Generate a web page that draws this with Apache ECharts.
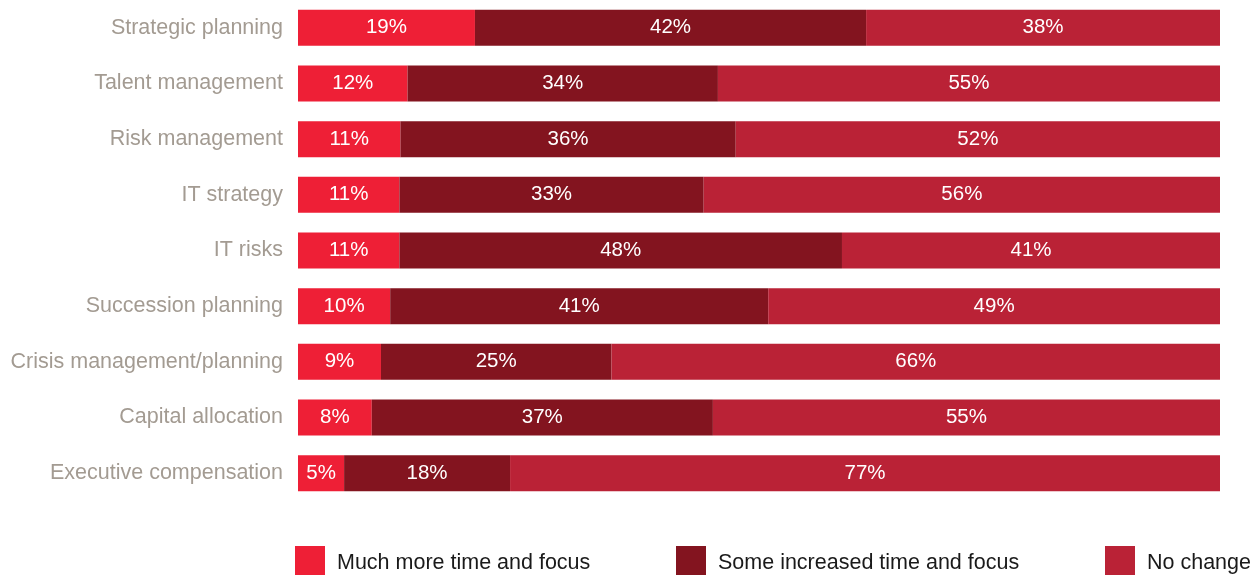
<!DOCTYPE html>
<html>
<head>
<meta charset="utf-8">
<script src="https://cdn.jsdelivr.net/npm/echarts@6/dist/echarts.min.js"></script>
<style>
  html, body { margin: 0; padding: 0; background: #fff; }
  #chart { width: 1257px; height: 576px; }
</style>
</head>
<body>
<div id="chart"></div>
<script>
var categories = ['Strategic planning', 'Talent management', 'Risk management', 'IT strategy', 'IT risks',
  'Succession planning', 'Crisis management/planning', 'Capital allocation', 'Executive compensation']
var seriesNames = ['Much more time and focus', 'Some increased time and focus', 'No change']
var muchMore = [19, 12, 11, 11, 11, 10, 9, 8, 5]
var someIncreased = [42, 34, 36, 33, 48, 41, 25, 37, 18]
var noChange = [38, 55, 52, 56, 41, 49, 66, 55, 77]
var colors = ['#EE1F36', '#83141F', '#BA2236']
var font = 'Liberation Sans, Arial, sans-serif'

var chart = echarts.init(document.getElementById('chart'))
var raw = [muchMore, someIncreased, noChange]
// each bar fills the full width, so scale by the row total
var totals = categories.map(function (c, i) {
  return muchMore[i] + someIncreased[i] + noChange[i]
})

var series = raw.map(function (vals, s) {
  return {
    name: seriesNames[s],
    type: 'bar',
    stack: 'all',
    barWidth: 36,
    itemStyle: { color: colors[s] },
    label: {
      show: true,
      color: '#fff',
      fontSize: 20.5,
      fontFamily: font,
      formatter: function (p) { return vals[p.dataIndex] + '%' }
    },
    data: vals.map(function (v, i) { return v / totals[i] * 100 })
  }
})

var legendLefts = [295, 676, 1105]

chart.setOption({
  animation: false,
  grid: { left: 298, right: 37, top: 0, bottom: 75 },
  legend: seriesNames.map(function (n, i) {
    return {
      data: [n],
      left: legendLefts[i],
      top: 546,
      padding: 0,
      itemWidth: 30,
      itemHeight: 29,
      itemGap: 12,
      icon: 'rect',
      formatter: '{t|{name}}',
      textStyle: {
        fontSize: 21.5, color: '#1a1a1a', fontFamily: font, padding: [0, 0, 0, 7],
        rich: { t: { fontSize: 21.5, color: '#1a1a1a', fontFamily: font, padding: [6, 0, 0, 0] } }
      },
      selectedMode: false
    }
  }),
  xAxis: { type: 'value', min: 0, max: 100, show: false },
  yAxis: {
    type: 'category',
    inverse: true,
    data: categories,
    axisLine: { show: false },
    axisTick: { show: false },
    axisLabel: { margin: 15, fontSize: 21.5, color: '#A39B92', fontFamily: font }
  },
  series: series
})
</script>
</body>
</html>
